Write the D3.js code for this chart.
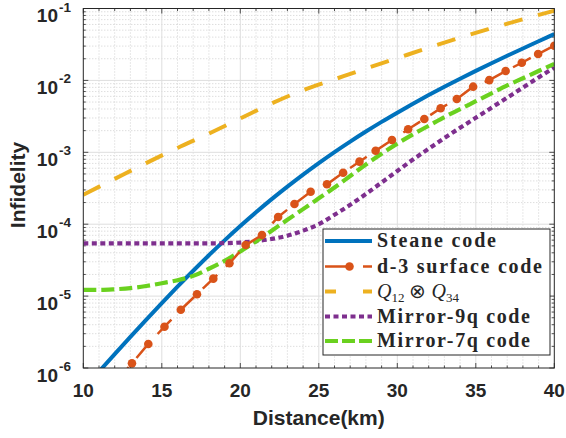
<!DOCTYPE html>
<html>
<head>
<meta charset="utf-8">
<script src="https://cdn.jsdelivr.net/npm/d3@7"></script>
<style>
body { margin: 0; background: #fff; }
text { fill: #262626; }
</style>
</head>
<body>
<svg id="chart" width="566" height="438"></svg>
<script>
// distances (km) for the smooth curves
const distKm = [10, 11, 12, 13, 14, 15, 16, 17, 18, 19, 20, 21, 22, 23, 24, 25,
    26, 27, 28, 29, 30, 31, 32, 33, 34, 35, 36, 37, 38, 39, 40];

const steaneInf = [5.07e-7, 8.91e-7, 1.56e-6, 2.71e-6, 4.68e-6, 8.0e-6, 1.352e-5, 2.254e-5,
    3.70e-5, 5.96e-5, 9.42e-5, 1.462e-4, 2.23e-4, 3.33e-4, 4.90e-4, 7.08e-4, 1.007e-3,
    1.409e-3, 1.945e-3, 2.65e-3, 3.56e-3, 4.74e-3, 6.25e-3, 8.17e-3, 1.057e-2, 1.358e-2,
    1.734e-2, 2.20e-2, 2.78e-2, 3.50e-2, 4.41e-2];

const mirror9Inf = [5.42e-5, 5.42e-5, 5.42e-5, 5.42e-5, 5.42e-5, 5.42e-5, 5.42e-5,
    5.42e-5, 5.42e-5, 5.45e-5, 5.56e-5, 5.82e-5, 6.24e-5, 6.92e-5, 8.13e-5, 1.0e-4,
    1.35e-4, 1.86e-4, 2.63e-4, 3.80e-4, 5.50e-4, 7.94e-4, 1.12e-3, 1.58e-3, 2.19e-3,
    3.02e-3, 4.17e-3, 5.75e-3, 7.94e-3, 1.10e-2, 1.51e-2];

const mirror7Inf = [1.22e-5, 1.22e-5, 1.245e-5, 1.29e-5, 1.38e-5, 1.51e-5, 1.66e-5,
    1.91e-5, 2.40e-5, 3.09e-5, 4.17e-5, 5.75e-5, 8.13e-5, 1.15e-4, 1.62e-4, 2.29e-4,
    3.24e-4, 4.68e-4, 6.76e-4, 9.55e-4, 1.32e-3, 1.78e-3, 2.34e-3, 3.09e-3, 3.98e-3,
    5.13e-3, 6.61e-3, 8.51e-3, 1.07e-2, 1.35e-2, 1.70e-2];

// Q12 x Q34 curve
const qKm = [10, 12, 14, 16, 18, 20, 22, 24, 26, 28, 30, 32, 34, 36, 38, 40];
const qInf = [2.57e-4, 4.27e-4, 7.08e-4, 1.15e-3, 1.82e-3, 2.95e-3, 4.79e-3, 7.33e-3,
    1.035e-2, 1.46e-2, 2.04e-2, 2.85e-2, 3.94e-2, 5.31e-2, 7.08e-2, 9.33e-2];

// d-3 surface code samples (with markers)
const surfKm = [12.07, 13.10, 14.14, 15.17, 16.21, 17.24, 18.28, 19.31, 20.34, 21.38,
    22.41, 23.45, 24.48, 25.52, 26.55, 27.59, 28.62, 29.66, 30.69, 31.72, 32.76, 33.79,
    34.83, 35.86, 36.90, 37.93, 38.97, 40.00];
const surfInf = [6.3e-7, 1.16e-6, 2.16e-6, 3.75e-6, 6.46e-6, 1.06e-5, 1.75e-5, 2.86e-5,
    5.13e-5, 7.08e-5, 1.26e-4, 1.91e-4, 2.83e-4, 3.59e-4, 5.2e-4, 7.41e-4, 1.05e-3,
    1.48e-3, 2.09e-3, 2.90e-3, 4.09e-3, 5.51e-3, 8.18e-3, 1.01e-2, 1.35e-2, 1.76e-2,
    2.33e-2, 3.04e-2];

const xTicks = [10, 15, 20, 25, 30, 35, 40];
const yExponents = [-6, -5, -4, -3, -2, -1];

const svg = d3.select('#chart');
const pLeft = 83.3, pRight = 554.3, pTop = 8.5, pBottom = 368;

const x = d3.scaleLinear().domain([10, 40]).range([pLeft, pRight]);
const y = d3.scaleLog().domain([1e-6, 1e-1]).range([pBottom, pTop]);

svg.append('defs').append('clipPath').attr('id', 'plotClip')
    .append('rect')
    .attr('x', pLeft).attr('y', pTop)
    .attr('width', pRight - pLeft).attr('height', pBottom - pTop);

// grid
const minorX = d3.range(11, 40).filter(function(d) { return d % 5 !== 0; });
const minorY = [];
yExponents.slice(0, -1).forEach(function(e) {
    for (let k = 2; k <= 9; k++) minorY.push(k * Math.pow(10, e));
});

const grid = svg.append('g');
grid.selectAll('.mx').data(minorX).enter().append('line')
    .attr('x1', d => x(d)).attr('x2', d => x(d))
    .attr('y1', pTop).attr('y2', pBottom)
    .attr('stroke', '#c4c4c4').attr('stroke-width', 0.8).attr('stroke-dasharray', '1,2');
grid.selectAll('.my').data(minorY).enter().append('line')
    .attr('x1', pLeft).attr('x2', pRight)
    .attr('y1', d => y(d)).attr('y2', d => y(d))
    .attr('stroke', '#c4c4c4').attr('stroke-width', 0.8).attr('stroke-dasharray', '1,2');
grid.selectAll('.Mx').data(xTicks.slice(1, -1)).enter().append('line')
    .attr('x1', d => x(d)).attr('x2', d => x(d))
    .attr('y1', pTop).attr('y2', pBottom)
    .attr('stroke', '#dedede').attr('stroke-width', 1);
grid.selectAll('.My').data(yExponents.slice(1, -1)).enter().append('line')
    .attr('x1', pLeft).attr('x2', pRight)
    .attr('y1', d => y(Math.pow(10, d))).attr('y2', d => y(Math.pow(10, d)))
    .attr('stroke', '#dedede').attr('stroke-width', 1);

// ticks (inside, on all four sides)
const tk = svg.append('g').attr('stroke', '#262626').attr('stroke-width', 0.8);
xTicks.concat(minorX).forEach(function(d) {
    const len = d % 5 === 0 ? 5 : 2.5;
    tk.append('line').attr('x1', x(d)).attr('x2', x(d)).attr('y1', pBottom).attr('y2', pBottom - len);
    tk.append('line').attr('x1', x(d)).attr('x2', x(d)).attr('y1', pTop).attr('y2', pTop + len);
});
yExponents.map(e => Math.pow(10, e)).concat(minorY).forEach(function(d, i) {
    const len = i < yExponents.length ? 5 : 2.5;
    tk.append('line').attr('x1', pLeft).attr('x2', pLeft + len).attr('y1', y(d)).attr('y2', y(d));
    tk.append('line').attr('x1', pRight).attr('x2', pRight - len).attr('y1', y(d)).attr('y2', y(d));
});

// curves
const plot = svg.append('g').attr('clip-path', 'url(#plotClip)');
const line = d3.line().x(d => x(d[0])).y(d => y(d[1]));
const smooth = d3.line().x(d => x(d[0])).y(d => y(d[1])).curve(d3.curveMonotoneX);

const colors = {
    steane: '#0072bd',
    surf: '#d95319',
    q: '#edb120',
    m9: '#7e2f8e',
    m7: '#6ad11f'
};

plot.append('path')
    .datum(d3.zip(qKm, qInf))
    .attr('d', smooth).attr('fill', 'none')
    .attr('stroke', colors.q).attr('stroke-width', 4).attr('stroke-dasharray', '19,16');

plot.append('path')
    .datum(d3.zip(distKm, steaneInf))
    .attr('d', smooth).attr('fill', 'none')
    .attr('stroke', colors.steane).attr('stroke-width', 4);

plot.append('path')
    .datum(d3.zip(distKm, mirror9Inf))
    .attr('d', smooth).attr('fill', 'none')
    .attr('stroke', colors.m9).attr('stroke-width', 4.2).attr('stroke-dasharray', '5,3.5');

plot.append('path')
    .datum(d3.zip(distKm, mirror7Inf))
    .attr('d', smooth).attr('fill', 'none')
    .attr('stroke', colors.m7).attr('stroke-width', 4.2).attr('stroke-dasharray', '13,5');

plot.append('path')
    .datum(d3.zip(surfKm, surfInf))
    .attr('d', line).attr('fill', 'none')
    .attr('stroke', colors.surf).attr('stroke-width', 2.5).attr('stroke-dasharray', '20,12');

plot.selectAll('.mk').data(d3.zip(surfKm, surfInf)).enter().append('circle')
    .attr('cx', d => x(d[0])).attr('cy', d => y(d[1]))
    .attr('r', 4.3).attr('fill', colors.surf);

// axes box
svg.append('rect')
    .attr('x', pLeft).attr('y', pTop)
    .attr('width', pRight - pLeft).attr('height', pBottom - pTop)
    .attr('fill', 'none').attr('stroke', '#262626').attr('stroke-width', 1);

// tick labels
const lab = svg.append('g').style('font-family', '"Liberation Sans", Arial, sans-serif')
    .style('font-weight', 'bold');
xTicks.forEach(function(d) {
    lab.append('text').attr('x', x(d)).attr('y', 397)
        .attr('text-anchor', 'middle').style('font-size', '19px').text(d);
});
yExponents.forEach(function(e) {
    const yy = y(Math.pow(10, e));
    lab.append('text').attr('x', 58).attr('y', yy + 13.5)
        .attr('text-anchor', 'end').style('font-size', '19px').text('10');
    lab.append('text').attr('x', 59).attr('y', yy + 3)
        .attr('text-anchor', 'start').style('font-size', '13.5px').text(e);
});

lab.append('text').attr('x', (pLeft + pRight) / 2).attr('y', 425)
    .attr('text-anchor', 'middle').style('font-size', '21px').text('Distance(km)');
lab.append('text').attr('transform', 'translate(25,185) rotate(-90)')
    .attr('text-anchor', 'middle').style('font-size', '21px').text('Infidelity');

// legend
const leg = svg.append('g');
leg.append('rect').attr('x', 323).attr('y', 229).attr('width', 227).attr('height', 126)
    .attr('fill', '#fff').attr('stroke', '#262626').attr('stroke-width', 1);

const legendItems = [
    { key: 'steane', label: 'Steane code', dash: null, w: 4 },
    { key: 'surf', label: 'd-3 surface code', dash: '27,11', w: 2.5 },
    { key: 'q', label: 'Q', dash: '11,27', w: 4 },
    { key: 'm9', label: 'Mirror-9q code', dash: '5,3.5', w: 4.2 },
    { key: 'm7', label: 'Mirror-7q code', dash: '13,4', w: 4.2 }
];
const legY = [241, 266.5, 291.5, 316.5, 341];
const legendWidths = [119, 165, 86, 153, 153];

legendItems.forEach(function(it, i) {
    const ly = legY[i];
    leg.append('line').attr('x1', 325).attr('x2', 372).attr('y1', ly).attr('y2', ly)
        .attr('stroke', colors[it.key]).attr('stroke-width', it.w)
        .attr('stroke-dasharray', it.dash);
    if (it.key === 'surf') {
        leg.append('circle').attr('cx', 349.5).attr('cy', ly).attr('r', 4.3).attr('fill', colors.surf);
    }
    const t = leg.append('text').attr('x', 377).attr('y', ly + 6)
        .style('font-family', '"Liberation Serif", "Times New Roman", serif');
    if (it.key === 'q') {
        t.style('font-size', '20px').style('font-style', 'italic');
        t.append('tspan').text('Q');
        t.append('tspan').attr('dy', 4).style('font-size', '13px').style('font-style', 'normal').text('12');
        t.append('tspan').attr('dy', -4).style('font-style', 'normal').text(' \u2297 ');
        t.append('tspan').text('Q');
        t.append('tspan').attr('dy', 4).style('font-size', '13px').style('font-style', 'normal').text('34');
    } else {
        t.style('font-size', '20px').style('font-weight', 'bold')
            .attr('textLength', legendWidths[i]).attr('lengthAdjust', 'spacing')
            .text(it.label);
    }
});
</script>
</body>
</html>
